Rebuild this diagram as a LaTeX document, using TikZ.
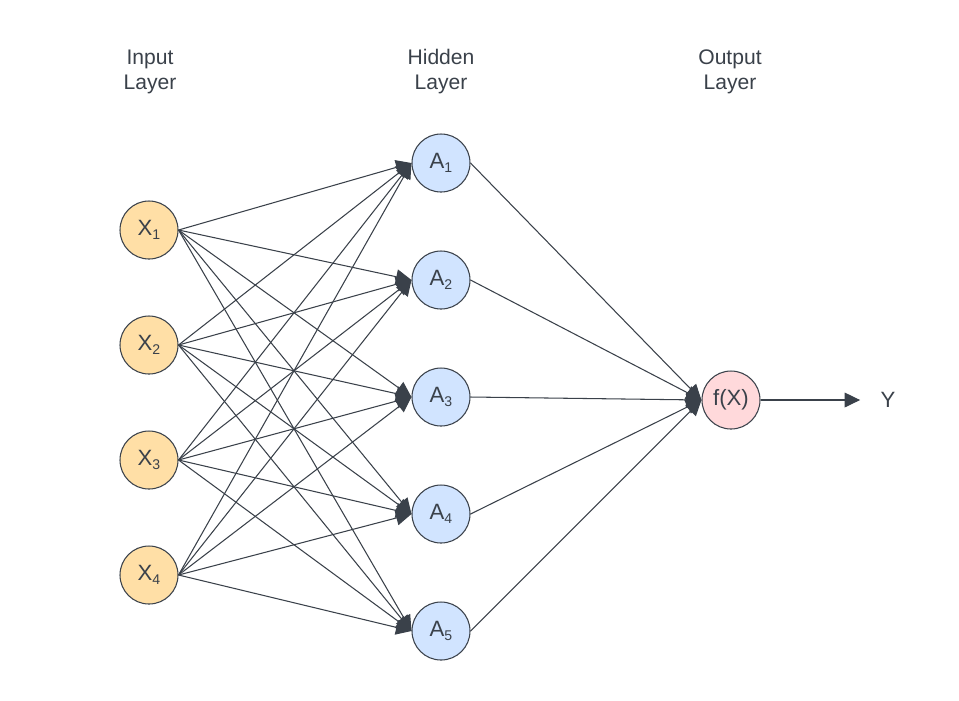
\documentclass[tikz,border=0pt]{standalone}
\usepackage{fontspec}
\setmainfont{Liberation Sans}
\usepackage{tikz}
\usetikzlibrary{arrows.meta,positioning}
\definecolor{linegray}{RGB}{58,65,74}
\definecolor{inorange}{RGB}{255,223,166}
\definecolor{hidblue}{RGB}{209,228,255}
\definecolor{outpink}{RGB}{255,217,219}
\tikzset{main node/.style={circle,draw=linegray,line width=0.3pt,minimum size=0.58cm,inner sep=0pt,
		text=linegray,font=\fontsize{6.3}{7}\selectfont},
	layer label/.style={align=center,text=linegray,font=\fontsize{6}{7.1}\selectfont},
}
\newcommand{\sub}[1]{\raisebox{-0.35ex}{\fontsize{4}{5}\selectfont #1}}

\begin{document}
\begin{tikzpicture}[->,>={Triangle[length=4.4pt,width=4.2pt]},auto,node distance=1.15cm,
		line width=0.3pt]
		\useasboundingbox (0,0) rectangle (9.59,7);
		
		\node[layer label] (inp) at (1.50,6.28) {Input\\Layer};
		\node[layer label] (hid) at (4.41,6.28) {Hidden\\Layer};
		\node[layer label] (outp) at (7.30,6.28) {Output\\Layer};
		
		\node[main node,fill=inorange] (x1) at (1.49,4.70) {X\sub{1}};
		\node[main node,fill=inorange] (x2) [below of=x1] {X\sub{2}};
		\node[main node,fill=inorange] (x3) [below of=x2] {X\sub{3}};
		\node[main node,fill=inorange] (x4) [below of=x3] {X\sub{4}};
		
		\node[main node,fill=hidblue] (a1) at (4.41,5.37) {A\sub{1}};
		\node[main node,fill=hidblue] (a2) [below of=a1, node distance=1.17cm] {A\sub{2}};
		\node[main node,fill=hidblue] (a3) [below of=a2, node distance=1.17cm] {A\sub{3}};
		\node[main node,fill=hidblue] (a4) [below of=a3, node distance=1.17cm] {A\sub{4}};
		\node[main node,fill=hidblue] (a5) [below of=a4, node distance=1.17cm] {A\sub{5}};
		
		\node[main node,fill=outpink] (fx) at (7.31,3.00) {f(X)};
		\node[text=linegray,font=\fontsize{6.3}{7}\selectfont,inner sep=0pt] (y) at (8.88,3.00) {Y};
		
		% every connector leaves the east point and ends on the west point
		\path[every edge/.style={draw=linegray}]
		(x1.east) edge (a1.west) (x1.east) edge (a2.west) (x1.east) edge (a3.west) (x1.east) edge (a4.west) (x1.east) edge (a5.west)
		(x2.east) edge (a1.west) (x2.east) edge (a2.west) (x2.east) edge (a3.west) (x2.east) edge (a4.west) (x2.east) edge (a5.west)
		(x3.east) edge (a1.west) (x3.east) edge (a2.west) (x3.east) edge (a3.west) (x3.east) edge (a4.west) (x3.east) edge (a5.west)
		(x4.east) edge (a1.west) (x4.east) edge (a2.west) (x4.east) edge (a3.west) (x4.east) edge (a4.west) (x4.east) edge (a5.west)
		(a1.east) edge (fx.west) (a2.east) edge (fx.west) (a3.east) edge (fx.west) (a4.east) edge (fx.west) (a5.east) edge (fx.west)
		(fx.east) edge [shorten >=0.2cm] (y)
		;
		\end{tikzpicture}
\end{document}
